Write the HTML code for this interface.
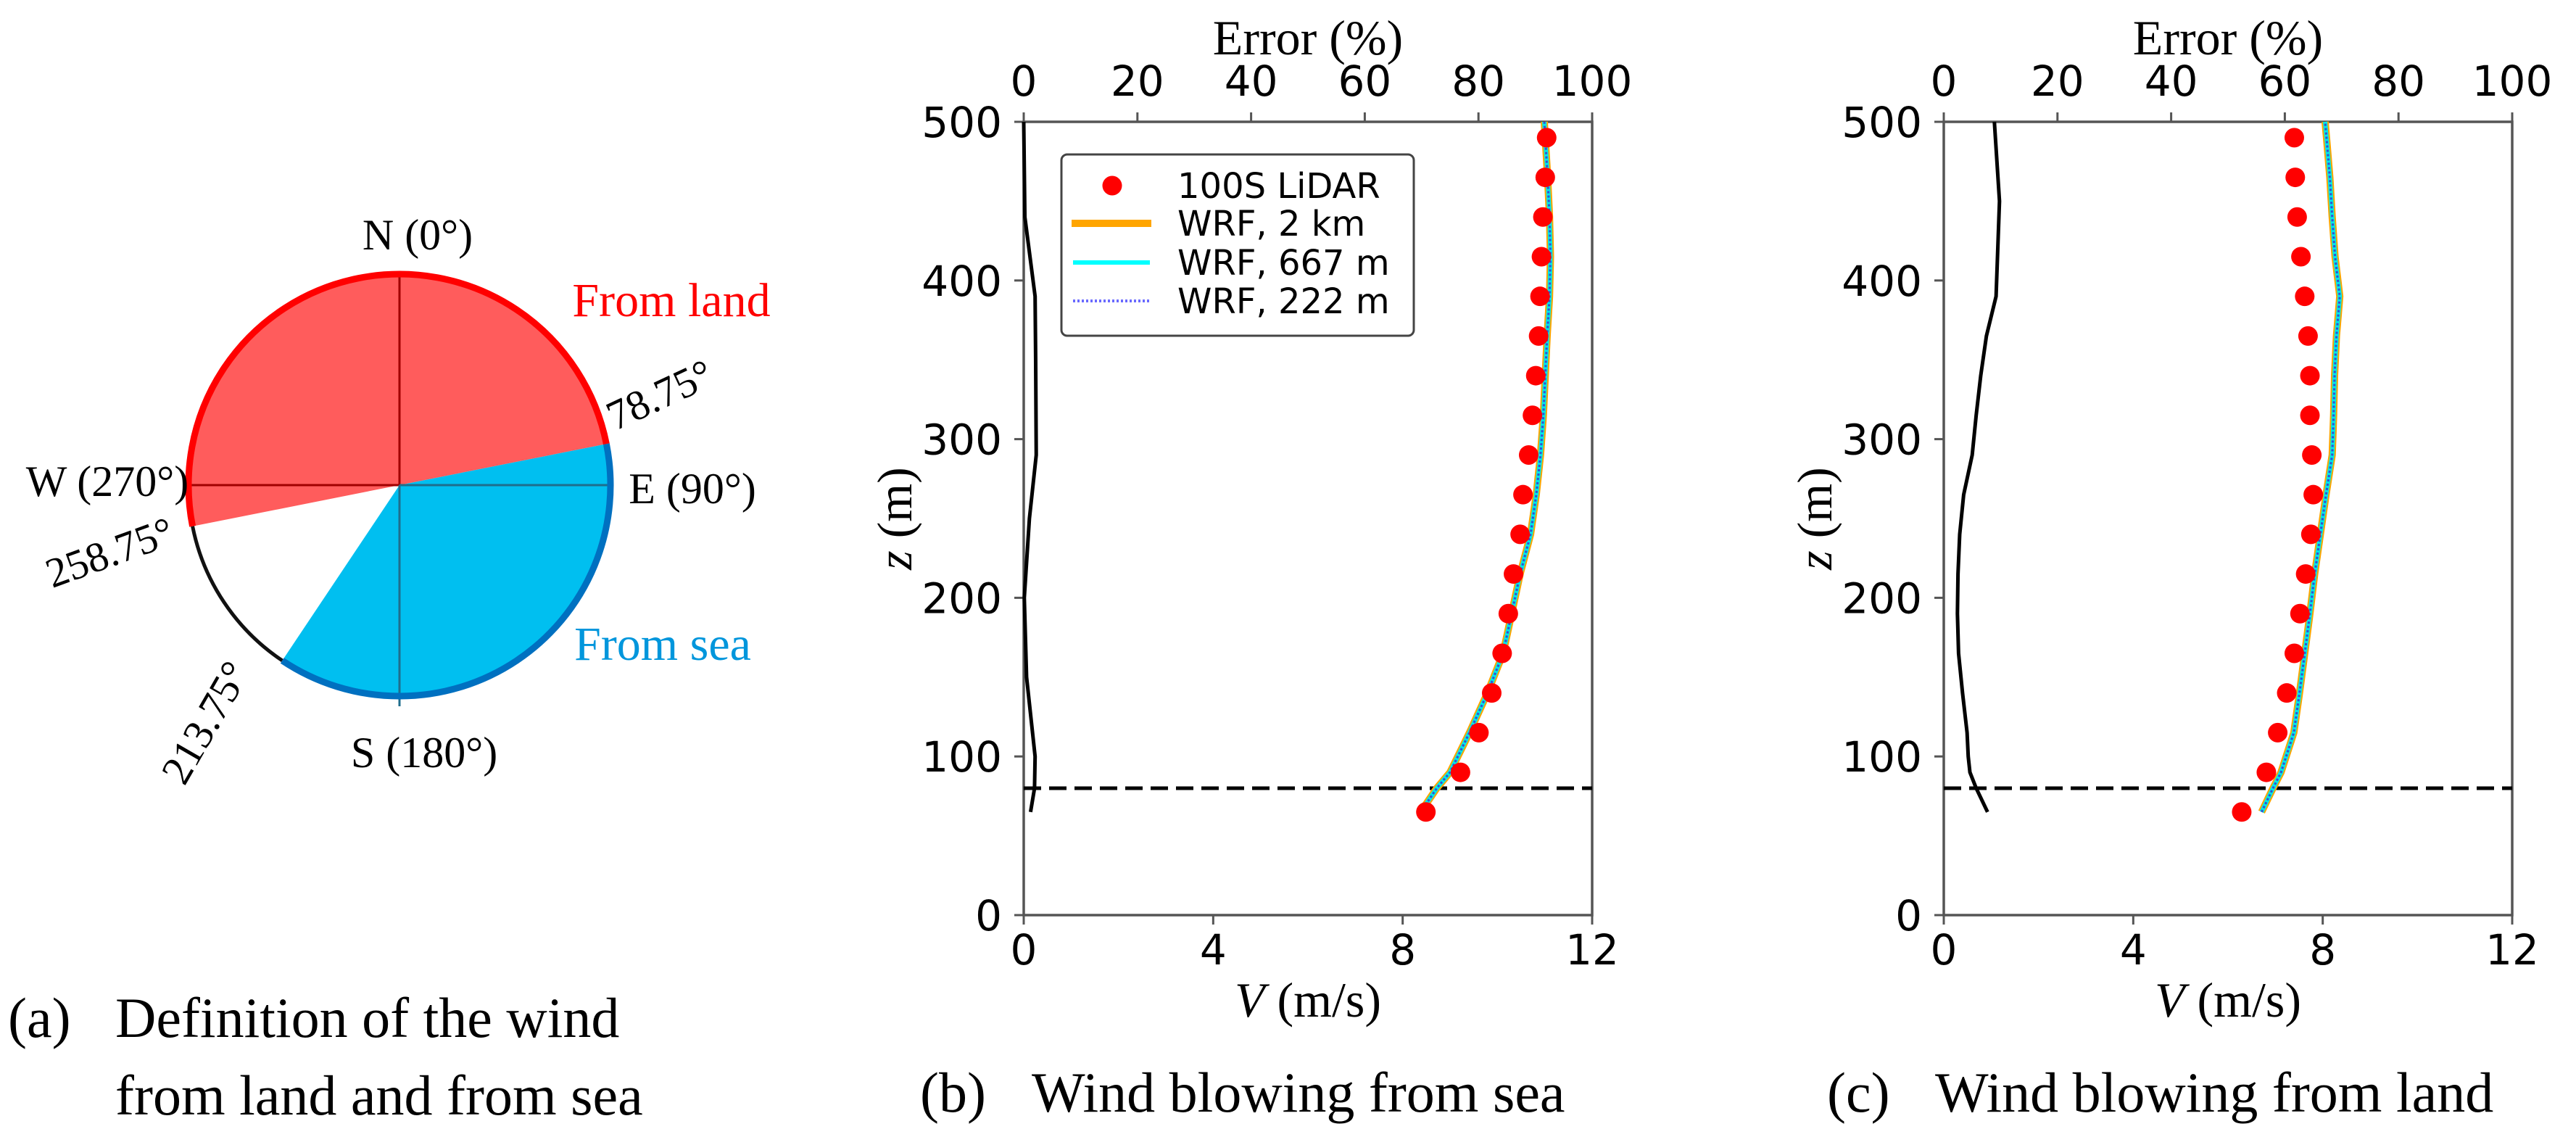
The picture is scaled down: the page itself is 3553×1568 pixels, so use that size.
<!DOCTYPE html>
<html><head><meta charset="utf-8"><style>
html,body{margin:0;padding:0;background:#fff}
svg{display:block}
.sans{font-family:"DejaVu Sans","Liberation Sans",sans-serif}
.serif{font-family:"Liberation Serif","DejaVu Serif",serif}
</style></head><body>
<svg id="fig" width="3553" height="1568" viewBox="0 0 3553 1568" xmlns="http://www.w3.org/2000/svg">
<g id="pie"></g>
<g id="panelB"></g>
<g id="panelC"></g>
<g class="serif" font-size="78" fill="#000">
<text x="11" y="1430">(a)</text>
<text x="159" y="1430">Definition of the wind</text>
<text x="159" y="1537">from land and from sea</text>
<text x="1269" y="1533">(b)</text>
<text x="1423" y="1533">Wind blowing from sea</text>
<text x="2520" y="1533">(c)</text>
<text x="2669" y="1533">Wind blowing from land</text>
</g>
</svg>
<script>
// ---- data ----
const lidarZ = [65,90,115,140,165,190,215,240,265,290,315,340,365,390,415,440,465,490];
const lidarSea = [8.49,9.22,9.61,9.88,10.10,10.23,10.34,10.48,10.54,10.66,10.74,10.81,10.87,10.90,10.93,10.96,11.01,11.04];
const lidarLand = [6.29,6.81,7.05,7.24,7.40,7.52,7.64,7.75,7.80,7.77,7.73,7.73,7.69,7.62,7.54,7.46,7.42,7.40];
const wrfZ = [65,80,90,115,140,165,190,215,240,265,290,315,340,365,390,415,440,465,490,500];
const wrf2kmSea = [8.38,8.72,9.00,9.41,9.79,10.12,10.30,10.48,10.70,10.82,10.91,10.97,11.01,11.05,11.10,11.12,11.10,11.06,11.01,10.99];
const wrf667Sea = [8.38,8.72,9.00,9.41,9.79,10.12,10.30,10.48,10.70,10.82,10.91,10.97,11.01,11.05,11.10,11.12,11.10,11.06,11.01,10.99];
const wrf222Sea = [8.38,8.72,9.00,9.41,9.79,10.12,10.30,10.48,10.70,10.82,10.91,10.97,11.01,11.05,11.10,11.12,11.10,11.06,11.01,10.99];
const wrf2kmLand = [6.71,6.95,7.12,7.39,7.51,7.62,7.73,7.83,7.95,8.07,8.20,8.23,8.25,8.29,8.36,8.26,8.20,8.15,8.08,8.05];
const wrf667Land = [6.71,6.95,7.12,7.39,7.51,7.62,7.73,7.83,7.95,8.07,8.20,8.23,8.25,8.29,8.36,8.26,8.20,8.15,8.08,8.05];
const wrf222Land = [6.71,6.95,7.12,7.39,7.51,7.62,7.73,7.83,7.95,8.07,8.20,8.23,8.25,8.29,8.36,8.26,8.20,8.15,8.08,8.05];
const errZSea = [65,80,100,150,200,250,290,350,390,440,500];
const errSea = [1.2,1.9,2.0,0.5,0.1,1.0,2.2,2.1,2.0,0.2,0.0];
const errZLand = [65,80,90,100,115,140,165,190,215,240,265,290,315,340,365,390,400,450,500];
const errLand = [7.7,5.7,4.6,4.3,4.1,3.3,2.6,2.4,2.5,2.8,3.5,5.0,5.7,6.5,7.5,9.2,9.3,9.8,8.9];
const vTicks = [0,4,8,12];
const errTicks = [0,20,40,60,80,100];
const zTicks = [0,100,200,300,400,500];
const hubHeight = 80;
const legendLabels = ["100S LiDAR","WRF, 2 km","WRF, 667 m","WRF, 222 m"];
const sectorAngles = [78.75, 213.75, 258.75];

const NS="http://www.w3.org/2000/svg";
function mk(tag, attrs, parent){const e=document.createElementNS(NS,tag);for(const k in attrs)e.setAttribute(k,attrs[k]);parent.appendChild(e);return e;}

function panel(g, x0, lidar, w2, w6, w2b, errZ, err, letter, withLegend){
  const W=784, y0=168, y1=1262, H=y1-y0;
  const xV=v=>x0+v/12*W, xE=e=>x0+e/100*W, yZ=z=>y1-z/500*H;
  const frame=mk('rect',{x:x0,y:y0,width:W,height:H,fill:'none',stroke:'#555','stroke-width':3.5},g);
  
  
  zTicks.forEach(z=>{
    const t=mk('line',{x1:x0-13,x2:x0,y1:yZ(z),y2:yZ(z),stroke:'#555','stroke-width':3},g);
    
    
    const l=mk('text',{x:x0-30,y:yZ(z)+21,'text-anchor':'end','font-size':58,class:'sans'},g);
    l.textContent=z;
    
    
  });
  vTicks.forEach(v=>{
    const t=mk('line',{x1:xV(v),x2:xV(v),y1:y1,y2:y1+13,stroke:'#555','stroke-width':3},g);
    
    
    const l=mk('text',{x:xV(v),y:1330,'text-anchor':'middle','font-size':58,class:'sans'},g);
    l.textContent=v;
    
    
  });
  errTicks.forEach(e=>{
    const t=mk('line',{x1:xE(e),x2:xE(e),y1:y0-13,y2:y0,stroke:'#555','stroke-width':3},g);
    
    
    const l=mk('text',{x:xE(e),y:132,'text-anchor':'middle','font-size':58,class:'sans'},g);
    l.textContent=e;
    
    
  });
  const xt=mk('text',{x:x0+W/2,y:1402,'text-anchor':'middle','font-size':68,class:'serif'},g);
  xt.innerHTML='<tspan font-style="italic">V</tspan> (m/s)';
  
  
  const tt=mk('text',{x:x0+W/2,y:75,'text-anchor':'middle','font-size':68,class:'serif'},g);
  tt.textContent='Error (%)';
  
  
  const yt=mk('text',{x:0,y:0,'text-anchor':'middle','font-size':68,class:'serif',transform:`translate(${x0-155},715) rotate(-90)`},g);
  yt.innerHTML='<tspan font-style="italic">z</tspan> (m)';
  
  
  const ep=mk('polyline',{points:errZ.map((z,i)=>xE(err[i])+','+yZ(z)).join(' '),fill:'none',stroke:'#000','stroke-width':5,'stroke-linejoin':'round'},g);
  
  
  const hl=mk('line',{x1:x0,x2:x0+W,y1:yZ(hubHeight),y2:yZ(hubHeight),stroke:'#000','stroke-width':5,'stroke-dasharray':'24 11'},g);
  
  
  const pts=a=>wrfZ.map((z,i)=>xV(a[i])+','+yZ(z)).join(' ');
  const l1=mk('polyline',{points:pts(w2),fill:'none',stroke:'#ffa500','stroke-width':10,'stroke-linejoin':'round'},g);
  
  
  const l2=mk('polyline',{points:pts(w6),fill:'none',stroke:'#00e8e8','stroke-width':6,'stroke-linejoin':'round'},g);
  
  
  const l3=mk('polyline',{points:pts(w2b),fill:'none',stroke:'#3a4ad0','stroke-width':3,'stroke-dasharray':'3 3'},g);
  
  
  lidarZ.forEach((z,i)=>{
    const c=mk('circle',{cx:xV(lidar[i]),cy:yZ(z),r:13.5,fill:'#ff0000'},g);
    
    
  });
  if(withLegend){
    const lg=mk('g',{},g);
    
    
    mk('rect',{x:1464,y:213,width:486,height:250,rx:8,fill:'#fff',stroke:'#444','stroke-width':3},lg);
    const ys=[256,308,362,415];
    mk('circle',{cx:1534,cy:ys[0],r:13.5,fill:'#ff0000'},lg);
    mk('line',{x1:1478,x2:1588,y1:ys[1],y2:ys[1],stroke:'#ffa500','stroke-width':10},lg);
    mk('line',{x1:1480,x2:1586,y1:ys[2],y2:ys[2],stroke:'#00ffff','stroke-width':6},lg);
    mk('line',{x1:1480,x2:1586,y1:ys[3],y2:ys[3],stroke:'#6a6aff','stroke-width':4,'stroke-dasharray':'3 3'},lg);
    legendLabels.forEach((s,i)=>{
      const t=mk('text',{x:1624,y:ys[i]+17,'font-size':48,class:'sans'},lg);
      t.textContent=s;
      
      
    });
  }
}
panel(document.getElementById('panelB'),1412,lidarSea,wrf2kmSea,wrf667Sea,wrf222Sea,errZSea,errSea,'b',true);
panel(document.getElementById('panelC'),2681,lidarLand,wrf2kmLand,wrf667Land,wrf222Land,errZLand,errLand,'c',false);

// ---- pie ----
(function(){
  const g=document.getElementById('pie');
  const cx=551, cy=669, r=291;
  const P=a=>{const t=a*Math.PI/180;return [cx+r*Math.sin(t), cy-r*Math.cos(t)];};
  const [aL,aS,aW]=sectorAngles;
  function sector(a1,a2,fill,name){
    const p1=P(a1),p2=P(a2);let span=(a2-a1+360)%360;
    const s=mk('path',{d:`M${cx},${cy} L${p1[0]},${p1[1]} A${r},${r} 0 ${span>180?1:0} 1 ${p2[0]},${p2[1]} Z`,fill:fill},g);
    
    
  }
  function arc(a1,a2,stroke,w,name){
    const p1=P(a1),p2=P(a2);let span=(a2-a1+360)%360;
    const s=mk('path',{d:`M${p1[0]},${p1[1]} A${r},${r} 0 ${span>180?1:0} 1 ${p2[0]},${p2[1]}`,fill:'none',stroke:stroke,'stroke-width':w},g);
    
    
  }
  sector(aW,aL,'#ff5c5c','land-sector');
  sector(aL,aS,'#00bff0','sea-sector');
  const red=[['#a00000',cx,cy-r,cx,cy],['#a00000',cx-r,cy,cx,cy],['#1f6e8c',cx,cy,cx+r,cy],['#1f6e8c',cx,cy,cx,cy+r+14]];
  red.forEach(l=>{const e=mk('line',{x1:l[1],y1:l[2],x2:l[3],y2:l[4],stroke:l[0],'stroke-width':3},g);
    
    });
  arc(aS,aW,'#111',5,'undefined-arc');
  arc(aW,aL,'#ff0000',9,'land-arc');
  arc(aL,aS,'#0070c0',9,'sea-arc');
  const labels=[
    ['N (0°)',576,344,0,'#000',60,'label-north'],
    ['E (90°)',955,694,0,'#000',60,'label-east'],
    ['S (180°)',585,1058,0,'#000',60,'label-south'],
    ['W (270°)',148,684,0,'#000',60,'label-west'],
    ['From land',926,436,0,'#ff0000',66,'label-from-land'],
    ['From sea',914,910,0,'#0096dc',66,'label-from-sea'],
    ['78.75°',918,562,-25,'#000',58,'label-78-75'],
    ['258.75°',158,780,-20,'#000',58,'label-258-75'],
    ['213.75°',300,1006,-60,'#000',58,'label-213-75']
  ];
  labels.forEach(L=>{
    const t=mk('text',{x:0,y:0,'text-anchor':'middle','font-size':L[5],fill:L[4],class:'serif',transform:`translate(${L[1]},${L[2]}) rotate(${L[3]})`},g);
    t.textContent=L[0];
    
    
  });
})();
</script>
</body></html>
